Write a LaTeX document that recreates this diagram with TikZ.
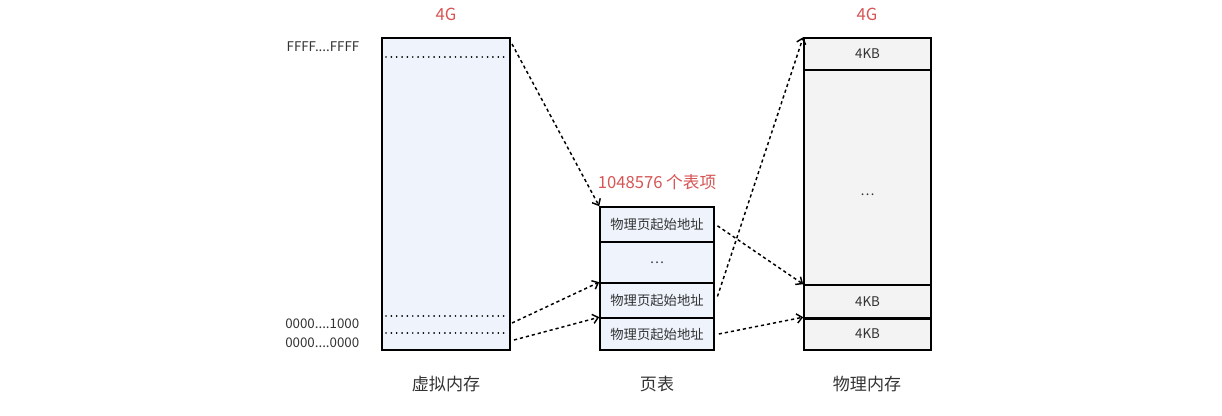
\documentclass[tikz,border=0pt]{standalone}
\usepackage{fontspec}
\setmainfont{Noto Sans CJK SC}
\usetikzlibrary{arrows.meta}

\definecolor{vmblue}{HTML}{EEF3FC}
\definecolor{pmgray}{HTML}{F3F3F3}
\definecolor{capred}{HTML}{D65454}
\definecolor{txtgray}{HTML}{333333}

\tikzset{
  cell/.style={draw, line width=1.2pt, inner sep=0pt, text=txtgray},
  ptcell/.style={cell, fill=vmblue, minimum width=85.5pt},
  pmcell/.style={cell, fill=pmgray, minimum width=95.25pt},
  link/.style={line width=1.1pt, dash pattern=on 2.4pt off 2.2pt, -{Straight Barb[length=4pt,width=7pt]}},
  mark line/.style={line width=1.4pt, dash pattern=on 0.01pt off 4pt, line cap=round},
  caption/.style={text=capred, font=\fontsize{12.5}{14}\selectfont},
  title/.style={text=txtgray, font=\fontsize{12.8}{15}\selectfont}
}

\begin{document}
\begin{tikzpicture}[x=0.75pt, y=-0.75pt, font=\fontsize{10}{12}\selectfont]

   \useasboundingbox (0,0) rectangle (1222,416);

   % virtual memory
   \node [cell, fill=vmblue, minimum width=96pt, minimum height=234pt] (vm) at (446,194) {};
   \foreach \y in {57, 316, 333}
     \draw [mark line] (386,\y) -- (508,\y);
   \node [text=txtgray, anchor=east] (hexhi) at (364,47) {FFFF....FFFF};
   \node [text=txtgray, anchor=east] (hexpage) at (364,324) {0000....1000};
   \node [text=txtgray, anchor=east] (hexlo) at (364,343) {0000....0000};
   \coordinate (vhi) at (512,44);
   \coordinate (vpage) at (512,323);
   \coordinate (vlo) at (514,340);

   % page table
   \foreach \n/\y/\h/\t in {1/224.5/26.25/物理页起始地址, 2/262.5/30.75/{\dots}, 3/300.5/26.25/物理页起始地址, 4/334/24/物理页起始地址}
     \node [ptcell, minimum height=\h pt] (pte\n) at (657,\y) {\t};

   % physical memory
   \foreach \n/\y/\h/\t in {1/54/24/4KB, 2/177.5/161.25/{}, 3/301.5/24.75/4KB, 4/334/24/4KB}
     \node [pmcell, minimum height=\h pt] (pm\n) at (867.5,\y) {\t};
   \node [text=txtgray] (pmdots) at (867.5,195) {\dots};
   \draw [line width=2.2pt] (pm3.south west) -- (pm3.south east);

   % captions
   \node [caption] (vmsize) at (446,14) {4G};
   \node [caption] (pmsize) at (867,14) {4G};
   \node [caption] (ptsize) at (657,182) {1048576 个表项};
   \node [title] (vmname) at (446,384) {虚拟内存};
   \node [title] (ptname) at (657,384) {页表};
   \node [title] (pmname) at (867,384) {物理内存};

   % mappings
   \foreach \a/\b in {vhi/pte1.north west, vpage/pte3.north west, vlo/pte4.north west}
     \draw [link] (\a) -- (\b);
   \draw [link] ([xshift=2pt, yshift=-1pt]pte1.east) -- (pm3.north west);
   \draw [link] ([xshift=2pt, yshift=3pt]pte3.east) -- (pm1.north west);
   \draw [link] ([xshift=3pt]pte4.east) -- (pm4.north west);

\end{tikzpicture}
\end{document}
